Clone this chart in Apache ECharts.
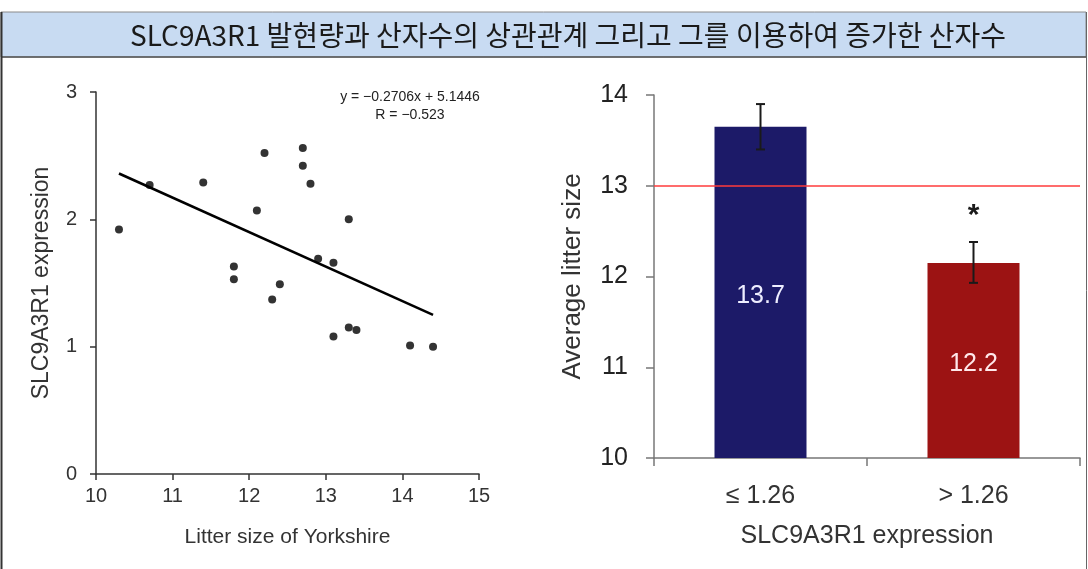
<!DOCTYPE html>
<html>
<head>
<meta charset="utf-8">
<script src="https://cdn.jsdelivr.net/npm/echarts@6/dist/echarts.min.js"></script>
<style>
html,body{margin:0;padding:0;background:#fff;}
#c{width:1088px;height:569px;}
</style>
</head>
<body>
<div id="c"></div>
<script>
// ---- data ----
const titleText = 'SLC9A3R1 발현량과 산자수의 상관관계 그리고 그를 이용하여 증가한 산자수';
const scatterX = [10.3, 10.7, 11.4, 12.2, 12.7, 12.7, 12.8, 12.1, 13.3, 12.9, 13.1, 11.8, 11.8, 12.4, 12.3, 13.1, 13.3, 13.4, 14.1, 14.4];
const scatterY = [1.92, 2.27, 2.29, 2.52, 2.56, 2.42, 2.28, 2.07, 2.00, 1.69, 1.66, 1.63, 1.53, 1.49, 1.37, 1.08, 1.15, 1.13, 1.01, 1.00];
const trendX = [10.3, 14.4];
const trendY = [2.36, 1.25];
const equationLines = ['y = \u22120.2706x + 5.1446', 'R = \u22120.523'];
const scatterXName = 'Litter size of Yorkshire';
const scatterYName = 'SLC9A3R1 expression';

const barCategories = ['\u2264 1.26', '> 1.26'];
const barValues = [13.65, 12.15];
const barLabels = ['13.7', '12.2'];
const errLow = [13.40, 11.93];
const errHigh = [13.90, 12.38];
const sigMarks = ['', '*'];
const refLine = 13;
const barXName = 'SLC9A3R1 expression';
const barYName = 'Average litter size';

// ---- chart ----
const FONT = 'Arial, "Liberation Sans", sans-serif';
const chart = echarts.init(document.getElementById('c'), null, {renderer: 'canvas'});

const scatterData = scatterX.map((x, i) => [x, scatterY[i]]);
const trendData = trendX.map((x, i) => [x, trendY[i]]);
const barColors = ['#1c1a68', '#9c1313'];
const labelColors = ['#eeeeff', '#ffe8ea'];
const errData = barCategories.map((c, i) => [i, errLow[i], errHigh[i]]);

const option = {
  animation: false,
  backgroundColor: '#ffffff',
  graphic: [
    {type: 'rect', shape: {x: 1, y: 12, width: 1085, height: 45}, style: {fill: '#c8dbf2', stroke: '#8a8a8a', lineWidth: 1}, z: 0},
    {type: 'line', shape: {x1: 1, y1: 57, x2: 1087, y2: 57}, style: {stroke: '#555', lineWidth: 1.5}},
    {type: 'line', shape: {x1: 1.5, y1: 12, x2: 1.5, y2: 569}, style: {stroke: '#333', lineWidth: 2}},
    {type: 'line', shape: {x1: 1086.5, y1: 12, x2: 1086.5, y2: 569}, style: {stroke: '#666', lineWidth: 1}},
    {type: 'text', x: 568, y: 35, style: {text: titleText, font: '28px "Noto Sans CJK KR", sans-serif', fill: '#1a1a1a', textAlign: 'center', textVerticalAlign: 'middle'}},
    {type: 'text', x: 410, y: 97, style: {text: equationLines[0], font: '14px ' + FONT, fill: '#222', textAlign: 'center', textVerticalAlign: 'middle'}},
    {type: 'text', x: 410, y: 115, style: {text: equationLines[1], font: '14px ' + FONT, fill: '#222', textAlign: 'center', textVerticalAlign: 'middle'}}
  ],
  grid: [
    {left: 96, top: 92, width: 383, height: 382},
    {left: 654, top: 95, width: 426, height: 363}
  ],
  xAxis: [
    {
      type: 'value', gridIndex: 0, min: 10, max: 15, interval: 1,
      name: scatterXName, nameLocation: 'middle', nameGap: 53,
      nameTextStyle: {fontFamily: FONT, fontSize: 21, color: '#333'},
      axisLine: {show: true, lineStyle: {color: '#333', width: 1.5}},
      axisTick: {show: true, inside: false, length: 6, lineStyle: {color: '#333', width: 1.5}},
      axisLabel: {fontFamily: FONT, fontSize: 20, color: '#333', margin: 12},
      splitLine: {show: false}
    },
    {
      type: 'category', gridIndex: 1, data: barCategories,
      name: barXName, nameLocation: 'middle', nameGap: 66,
      nameTextStyle: {fontFamily: FONT, fontSize: 25, color: '#333'},
      axisLine: {show: true, lineStyle: {color: '#777', width: 1.5}},
      axisTick: {show: true, inside: false, length: 8, alignWithLabel: false, lineStyle: {color: '#777', width: 1.5}},
      axisLabel: {fontFamily: FONT, fontSize: 25, color: '#333', margin: 26},
      splitLine: {show: false}
    }
  ],
  yAxis: [
    {
      type: 'value', gridIndex: 0, min: 0, max: 3, interval: 1,
      name: scatterYName, nameLocation: 'middle', nameGap: 43,
      nameTextStyle: {fontFamily: FONT, fontSize: 23, color: '#333'},
      axisLine: {show: true, lineStyle: {color: '#333', width: 1.5}},
      axisTick: {show: true, inside: false, length: 6, lineStyle: {color: '#333', width: 1.5}},
      axisLabel: {fontFamily: FONT, fontSize: 20, color: '#333', margin: 19},
      splitLine: {show: false}
    },
    {
      type: 'value', gridIndex: 1, min: 10, max: 14, interval: 1,
      name: barYName, nameLocation: 'middle', nameGap: 68,
      nameTextStyle: {fontFamily: FONT, fontSize: 26, color: '#333'},
      axisLine: {show: true, lineStyle: {color: '#777', width: 1.5}},
      axisTick: {show: true, inside: false, length: 8, lineStyle: {color: '#777', width: 1.5}},
      axisLabel: {fontFamily: FONT, fontSize: 25, color: '#222', margin: 26},
      splitLine: {show: false}
    }
  ],
  series: [
    {
      type: 'scatter', xAxisIndex: 0, yAxisIndex: 0, data: scatterData,
      symbol: 'circle', symbolSize: 8, itemStyle: {color: '#000'}, z: 3
    },
    {
      type: 'line', xAxisIndex: 0, yAxisIndex: 0, data: trendData,
      showSymbol: false, symbol: 'none', lineStyle: {color: '#000', width: 2.5}, z: 2
    },
    {
      type: 'bar', xAxisIndex: 1, yAxisIndex: 1,
      data: barValues.map((v, i) => ({value: v, itemStyle: {color: barColors[i]},
        label: {show: true, position: 'inside', offset: [0, 4], formatter: barLabels[i], color: labelColors[i], fontFamily: FONT, fontSize: 25}})),
      barWidth: 92,
      markLine: {
        silent: true, symbol: 'none', label: {show: false},
        lineStyle: {color: '#ff3b3b', width: 1.5, type: 'solid'},
        data: [{yAxis: refLine}]
      },
      z: 2
    },
    {
      type: 'custom', xAxisIndex: 1, yAxisIndex: 1, data: errData, z: 5,
      renderItem: function (params, api) {
        const idx = api.value(0);
        const top = api.coord([idx, api.value(2)]);
        const bot = api.coord([idx, api.value(1)]);
        const cap = 4.5;
        const children = [
          {type: 'line', shape: {x1: top[0], y1: top[1], x2: bot[0], y2: bot[1]}, style: {stroke: '#1a1a1a', lineWidth: 2}},
          {type: 'line', shape: {x1: top[0] - cap, y1: top[1], x2: top[0] + cap, y2: top[1]}, style: {stroke: '#1a1a1a', lineWidth: 2}},
          {type: 'line', shape: {x1: bot[0] - cap, y1: bot[1], x2: bot[0] + cap, y2: bot[1]}, style: {stroke: '#1a1a1a', lineWidth: 2}}
        ];
        const mark = sigMarks[params.dataIndex];
        if (mark) {
          children.push({type: 'text', x: top[0], y: top[1] - 26, style: {text: mark, font: 'bold 30px ' + FONT, fill: '#1a1a1a', textAlign: 'center', textVerticalAlign: 'middle'}});
        }
        return {type: 'group', children: children};
      }
    }
  ]
};
chart.setOption(option);
</script>
</body>
</html>
